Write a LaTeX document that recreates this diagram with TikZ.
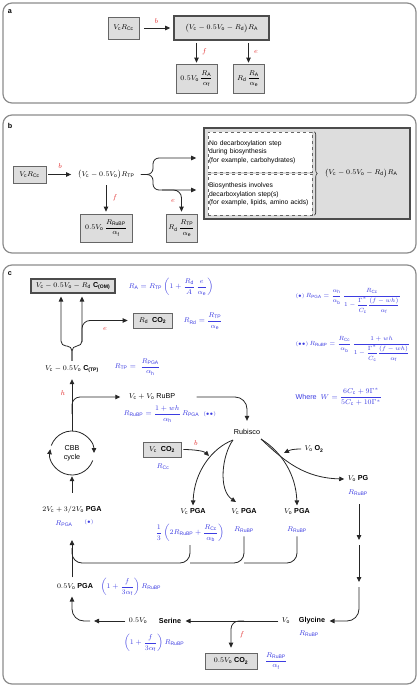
\documentclass[tikz,border=0pt]{standalone}
\usepackage{amsmath}
\usepackage{fontspec}
\setmainfont{Liberation Sans}
\usepackage{xcolor}
\usetikzlibrary{arrows.meta,decorations.pathreplacing}

\definecolor{rateblue}{RGB}{60,60,225}
\definecolor{stepred}{RGB}{225,45,45}
\definecolor{boxgray}{RGB}{221,221,221}
\definecolor{framegray}{RGB}{140,140,140}

\tikzset{
  panel/.style={draw=framegray, line width=1.2pt, rounded corners=9pt},
  fluxbox/.style={draw=black!60, fill=boxgray, line width=0.7pt, inner sep=1pt},
  poolbox/.style={draw=black!70, fill=boxgray, line width=1.6pt, inner sep=1pt},
  notebox/.style={draw=black!60, dashed, fill=white, line width=0.5pt, align=left,
    inner sep=1pt, text width=102pt, font=\fontsize{6.7}{8.5}\selectfont},
  rate/.style={text=rateblue},
  eqn/.style={text=rateblue, anchor=west, font=\fontsize{6.5}{7.8}\selectfont},
  steplab/.style={text=stepred},
  flow/.style={-{Triangle[length=5pt,width=4.5pt]}, line width=0.8pt, black!85},
  link/.style={line width=0.8pt, black!85},
}

\begin{document}
\begin{tikzpicture}[x=1pt, y=-1pt, font=\fontsize{7.2}{8.6}\selectfont]
  \useasboundingbox (0,0) rectangle (418,685);

  % ---------------- panel a ----------------
  \draw[panel] (3,3) rectangle (416,103);
  \node (tagA) at (10,12) {\textbf{a}};
  \node[fluxbox, minimum width=31pt, minimum height=22pt] (aCc) at (123.5,28) {$V_\mathrm{c}R_\mathrm{Cc}$};
  \node[poolbox, minimum width=95pt, minimum height=24pt] (aPool) at (221.5,28)
    {$\bigl(V_\mathrm{c} - 0.5V_\mathrm{o} - R_\mathrm{d}\bigr)R_\mathrm{A}$};
  \node[fluxbox, minimum width=41pt, minimum height=29pt] (aPhoto) at (196.5,78.5)
    {$0.5V_\mathrm{o}\,\dfrac{R_\mathrm{A}}{\alpha_\mathrm{f}}$};
  \node[fluxbox, minimum width=31pt, minimum height=29pt] (aResp) at (248.5,78.5)
    {$R_\mathrm{d}\,\dfrac{R_\mathrm{A}}{\alpha_\mathrm{e}}$};

  \draw[flow, shorten <=5pt, shorten >=3pt] (aCc) -- (aPool) node[steplab, midway, above=1pt] {$b$};
  \draw[flow, shorten <=2pt, shorten >=1pt] (aPool.south -| aPhoto) -- (aPhoto.north)
    node[steplab, midway, right=2pt] {$f$};
  \draw[flow, shorten <=2pt, shorten >=1pt] (aPool.south -| aResp) -- (aResp.north)
    node[steplab, midway, right=2pt] {$e$};

  % ---------------- panel b ----------------
  \draw[panel] (3,115) rectangle (416,253);
  \node (tagB) at (10,126) {\textbf{b}};
  \node[fluxbox, minimum width=33pt, minimum height=17pt] (bCc) at (29.5,174.5) {$V_\mathrm{c}R_\mathrm{Cc}$};
  \node (bTP) at (106,174.5) {$\bigl(V_\mathrm{c} - 0.5V_\mathrm{o}\bigr)R_\mathrm{TP}$};
  \node[fluxbox, minimum width=52pt, minimum height=28pt] (bPhoto) at (106,228)
    {$0.5V_\mathrm{o}\,\dfrac{R_\mathrm{RuBP}}{\alpha_\mathrm{f}}$};
  \node[fluxbox, minimum width=31pt, minimum height=28pt] (bResp) at (181.5,228)
    {$R_\mathrm{d}\,\dfrac{R_\mathrm{TP}}{\alpha_\mathrm{e}}$};
  \node[poolbox, minimum width=206pt, minimum height=91pt] (bPool) at (307,173.5) {};
  \node[notebox, minimum height=40pt] (bNoDec) at (260,152)
    {No decarboxylation step\\during biosynthesis\\(for example, carbohydrates)};
  \node[notebox, minimum height=41pt] (bDec) at (260,194.5)
    {Biosynthesis involves\\decarboxylation step(s)\\(for example, lipids, amino acids)};
  \draw[link, line width=0.6pt, decorate, decoration={brace, amplitude=3pt}]
    ([xshift=2pt]bNoDec.north east) -- ([xshift=2pt]bDec.south east);
  \node (bA) at (361,173) {$\bigl(V_\mathrm{c} - 0.5V_\mathrm{o} - R_\mathrm{d}\bigr)R_\mathrm{A}$};

  % fork of the triose phosphate
  \coordinate (bForkUp) at (153,158);
  \coordinate (bForkDn) at (153,190);
  \coordinate (bEsplit) at (162,190);
  \draw[flow, shorten <=2pt, shorten >=3pt] (bCc) -- (bTP) node[steplab, midway, above=2pt] {$b$};
  \draw[flow, shorten <=3pt, shorten >=2pt] (bTP.south -| bPhoto) -- (bPhoto.north)
    node[steplab, midway, right=3pt] {$f$};
  \draw[flow, rounded corners=6pt, shorten >=7pt] ([xshift=3pt]bTP.east) -| (bForkUp) -- (bPool.west |- bForkUp);
  \draw[flow, rounded corners=6pt, shorten >=7pt] ([xshift=3pt]bTP.east) -| (bForkDn) -- (bPool.west |- bForkDn);
  \draw[flow, rounded corners=8pt, shorten >=2pt] (bEsplit) -| (bResp.north);
  \node[steplab] (bLabE) at (173,201) {$e$};

  % ---------------- panel c ----------------
  \draw[panel] (3,265) rectangle (416,684);
  \node (tagC) at (10,274) {\textbf{c}};

  % carbon pools and rates
  \node[poolbox, line width=1.1pt, minimum width=84pt, minimum height=14pt] (cOM) at (73,286)
    {$V_\mathrm{c} - 0.5V_\mathrm{o} - R_\mathrm{d}$ \textbf{C}$_\textbf{(OM)}$};
  \node[rate, anchor=west] (cRA) at (125,287)
    {$R_\mathrm{A} = R_\mathrm{TP}\left(1 + \dfrac{R_\mathrm{d}}{A}\,\dfrac{e}{\alpha_\mathrm{e}}\right)$};
  \node[fluxbox, minimum width=39pt, minimum height=15pt] (cResp) at (152.5,320.5)
    {$R_\mathrm{d}$\;\;\textbf{CO}$_\mathbf{2}$};
  \node[rate, anchor=west] (cRRd) at (180,321) {$R_\mathrm{Rd} = \dfrac{R_\mathrm{TP}}{\alpha_\mathrm{e}}$};
  \node (cTP) at (72,369) {$V_\mathrm{c} - 0.5V_\mathrm{o}$ \textbf{C}$_\textbf{(TP)}$};
  \node[rate, anchor=west] (cRTP) at (111,367) {$R_\mathrm{TP} = \;\dfrac{R_\mathrm{PGA}}{\alpha_\mathrm{h}}$};
  \node (cRuBP) at (152,397) {$V_\mathrm{c} + V_\mathrm{o}$ RuBP};
  \node[rate, anchor=west] (cRRuBP) at (120,414)
    {$R_\mathrm{RuBP} = \dfrac{1 + wh}{\alpha_\mathrm{h}}\,R_\mathrm{PGA}$\;\;${\scriptstyle(\bullet\bullet)}$};

  % isotope relations on the right
  \node[eqn] (cEqPGA) at (292,301)
    {${\scriptscriptstyle(\bullet)}\, R_\mathrm{PGA} = \dfrac{\alpha_\mathrm{h}}{\alpha_\mathrm{b}}\,
     \dfrac{R_\mathrm{Cc}}{1 - \dfrac{\Gamma^*}{C_\mathrm{c}}\dfrac{(f - wh)}{\alpha_\mathrm{f}}}$};
  \node[eqn] (cEqRuBP) at (292,349)
    {${\scriptscriptstyle(\bullet\bullet)}\, R_\mathrm{RuBP} = \dfrac{R_\mathrm{Cc}}{\alpha_\mathrm{b}}\,
     \dfrac{1 + wh}{1 - \dfrac{\Gamma^*}{C_\mathrm{c}}\dfrac{(f - wh)}{\alpha_\mathrm{f}}}$};
  \node[rate, anchor=west] (cEqW) at (292,397)
    {Where\; $W = \dfrac{6C_\mathrm{c} + 9\Gamma^*}{5C_\mathrm{c} + 10\Gamma^*}$};

  % Calvin cycle
  \node[circle, minimum size=44pt, align=center] (cCBB) at (72,453) {CBB\\cycle};
  \node (cPGA2) at (72,510) {$2V_\mathrm{c} + 3/2V_\mathrm{o}$ \textbf{PGA}};
  \node[rate] (cRPGA) at (64,524) {$R_\mathrm{PGA}$};
  \node[rate] (cStar) at (89,522) {${\scriptstyle(\bullet)}$};

  % Rubisco
  \node (cRub) at (247,432) {Rubisco};
  \node[fluxbox, minimum width=38pt, minimum height=15pt] (cCO2) at (162,449.5)
    {$V_\mathrm{c}$\;\;\textbf{CO}$_\mathbf{2}$};
  \node[rate] (cRCc) at (163,467) {$R_\mathrm{Cc}$};
  \node[steplab] (cLabB) at (196,443) {$b$};
  \node (cO2) at (314,449) {$V_\mathrm{o}$ \textbf{O}$_\mathbf{2}$};
  \node (cPGc1) at (193,512) {$V_\mathrm{c}$ \textbf{PGA}};
  \node (cPGc2) at (244,512) {$V_\mathrm{c}$ \textbf{PGA}};
  \node (cPGo) at (297,512) {$V_\mathrm{o}$ \textbf{PGA}};
  \node[rate] (cR1) at (190,533)
    {$\dfrac{1}{3}\left(2R_\mathrm{RuBP} + \dfrac{R_\mathrm{Cc}}{\alpha_\mathrm{b}}\right)$};
  \node[rate] (cR2) at (244,530) {$R_\mathrm{RuBP}$};
  \node[rate] (cR3) at (297,530) {$R_\mathrm{RuBP}$};
  \node (cPG) at (358,479) {$V_\mathrm{o}$ \textbf{PG}};
  \node[rate] (cRPG) at (358,493) {$R_\mathrm{RuBP}$};

  % photorespiration
  \node (cPGAh) at (75,587) {$0.5V_\mathrm{o}$ \textbf{PGA}};
  \node[rate, anchor=west] (cRPGAh) at (97,587)
    {$\left(1 + \dfrac{f}{3\alpha_\mathrm{f}}\right)R_\mathrm{RuBP}$};
  \node (cSerV) at (138,621) {$0.5V_\mathrm{o}$};
  \node (cSer) at (170,621) {\textbf{Serine}};
  \node (cGlyV) at (286,621) {$V_\mathrm{o}$};
  \node (cGly) at (312,621) {\textbf{Glycine}};
  \node[rate] (cRGly) at (309,634) {$R_\mathrm{RuBP}$};
  \node[rate] (cRSer) at (154,643)
    {$\left(1 + \dfrac{f}{3\alpha_\mathrm{f}}\right)R_\mathrm{RuBP}$};
  \node[fluxbox, minimum width=52pt, minimum height=16pt] (cCO2o) at (231,661)
    {$0.5V_\mathrm{o}$ \textbf{CO}$_\mathbf{2}$};
  \node[rate] (cRCO2o) at (276,661) {$\dfrac{R_\mathrm{RuBP}}{\alpha_\mathrm{f}}$};
  \node[steplab] (cLabF) at (242,635) {$f$};

  % fork into organic matter and respiration
  \coordinate (cJoin) at (72,346);
  \coordinate (cEsplit) at (82,342);
  \draw[flow, rounded corners=5pt, shorten <=1pt, shorten >=3pt] (cTP.north) -- (cJoin) -| ([xshift=-12pt]cOM.south);
  \draw[flow, rounded corners=5pt, shorten <=1pt, shorten >=3pt] (cTP.north) -- (cJoin) -| ([xshift=9pt]cOM.south);
  \draw[flow, rounded corners=8pt, shorten >=5pt] (cEsplit) |- (cResp.west);
  \node[steplab] (cLabE) at (105,329) {$e$};

  % cycle, regeneration and carboxylation
  \coordinate (cHsplit) at (72,414);
  \draw[flow, shorten >=3pt] (cCBB.north) -- (cTP.south);
  \draw[flow, rounded corners=8pt, shorten >=5pt] (cHsplit) |- (cRuBP.west);
  \node[steplab] (cLabH) at (63,393) {$h$};
  \draw[flow, rounded corners=12pt, shorten <=18pt, shorten >=5pt] (cRuBP.east) -| (cRub.north);
  \draw[flow] (cCBB.center) ++(-160:22) arc[start angle=-160, end angle=0, radius=22];
  \draw[flow] (cCBB.center) ++(20:22) arc[start angle=20, end angle=190, radius=22];
  \draw[flow, shorten <=10pt, shorten >=1pt] (cPGA2.north) -- (cCBB.south);

  \coordinate (cRubL) at (233,440);
  \coordinate (cRubR) at (261,439);
  \coordinate (cCO2in) at (209,456);
  \coordinate (cPGc2in) at (236,502);
  \coordinate (cO2in) at (284,453);
  \draw[flow] (cRubL) .. controls (212,448) and (194,472) .. (cPGc1.north);
  \draw[flow] (cRubL) .. controls (222,455) and (218,490) .. (cPGc2in);
  \draw[flow] (cRubR) .. controls (282,452) and (296,475) .. (cPGo.north);
  \draw[flow] (cRubR) .. controls (285,462) and (305,478) .. (cPG.west);
  \draw[flow, shorten <=2pt] (cCO2.east) .. controls +(12,0) and +(-5,-5) .. (cCO2in);
  \draw[flow] (cO2.west) .. controls +(-8,0) and +(6,-3) .. (cO2in);

  % PGA back to the cycle
  \coordinate (cCol) at (72,563);
  \coordinate (cPGAin) at (72,540);
  \draw[link, rounded corners=10pt] (cR1.south) |- (cCol) -- (72,548);
  \draw[link, rounded corners=10pt] (cR2.south) |- (cR1.south |- cCol);
  \draw[link, rounded corners=10pt] (cR3.south) |- (cR2.south |- cCol);
  \draw[flow, shorten <=3pt] (cPGAh.north -| cCBB) -- (cPGAin);

  % glycolate pathway
  \coordinate (cPGa) at (359,540);
  \coordinate (cPGb) at (359,545);
  \coordinate (cPGc) at (359,582);
  \coordinate (cPGd) at (359,587);
  \coordinate (cFsplit) at (244,621);
  \coordinate (cSerOut) at (94,621);
  \coordinate (cSerIn) at (90,621);
  \draw[flow, shorten <=5pt] (cRPG.south -| cPGa) -- (cPGa);
  \draw[flow] (cPGb) -- (cPGc);
  \draw[flow, rounded corners=12pt, shorten >=1pt] (cPGd) |- (cGly.east);
  \draw[flow, shorten >=1pt] (cGlyV.west) -- (cSer.east);
  \draw[flow, rounded corners=8pt, shorten >=5pt] (cFsplit) -| (cCO2o.north);
  \draw[flow] (cSerV.west) -- (cSerOut);
  \draw[flow, rounded corners=12pt, shorten >=3pt] (cSerIn) -| (cPGAh.south -| cCBB);
\end{tikzpicture}
\end{document}
